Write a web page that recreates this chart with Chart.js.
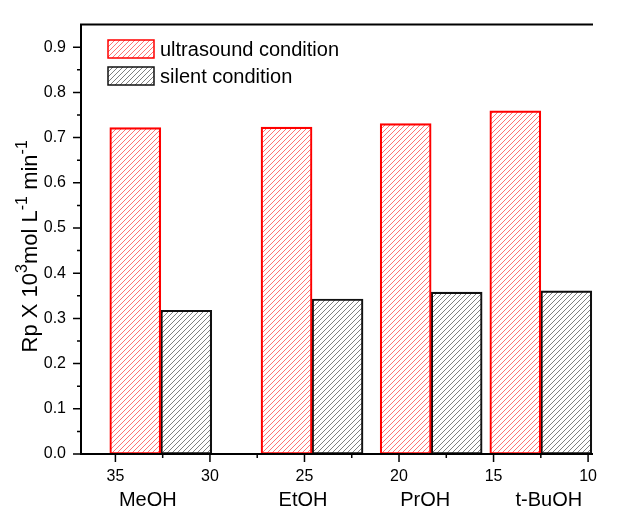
<!DOCTYPE html>
<html>
<head>
<meta charset="utf-8">
<script src="https://cdn.jsdelivr.net/npm/chart.js@4.4.0/dist/chart.umd.min.js"></script>
<style>
  html, body { margin: 0; padding: 0; background: #fff; }
</style>
</head>
<body>
<canvas id="rpChart" width="617" height="511"></canvas>
<script>
// solvents, placed on the x axis by dielectric constant
const solvents = ['MeOH', 'EtOH', 'PrOH', 't-BuOH'];
const dielectric = [32.6, 24.6, 18.3, 12.5];

// Rp x 10^3 (mol L^-1 min^-1)
const ultrasoundRp = [0.722, 0.723, 0.731, 0.759];
const silentRp = [0.318, 0.343, 0.358, 0.361];

const seriesNames = ['ultrasound condition', 'silent condition'];
const xTicks = [35, 30, 25, 20, 15, 10];
const yTicks = [0.0, 0.1, 0.2, 0.3, 0.4, 0.5, 0.6, 0.7, 0.8, 0.9];

const FONT = '"Liberation Sans", Arial, Helvetica, sans-serif';
const canvas = document.getElementById('rpChart');
const ctx = canvas.getContext('2d');

// diagonal "/" hatch used to fill the bars
function hatch(color) {
  const s = 5;
  const tile = document.createElement('canvas');
  tile.width = s; tile.height = s;
  const g = tile.getContext('2d');
  g.strokeStyle = color;
  g.lineWidth = 1;
  g.beginPath();
  g.moveTo(0, s); g.lineTo(s, 0);
  g.moveTo(-1, 1); g.lineTo(1, -1);
  g.moveTo(s - 1, s + 1); g.lineTo(s + 1, s - 1);
  g.stroke();
  return ctx.createPattern(tile, 'repeat');
}

function drawRich(c, parts, size, supSize) {
  let w = 0;
  parts.forEach(p => {
    c.font = (p.sup ? supSize : size) + 'px ' + FONT;
    p.w = c.measureText(p.t).width;
    w += p.w;
  });
  let x = -w / 2;
  parts.forEach(p => {
    c.font = (p.sup ? supSize : size) + 'px ' + FONT;
    c.fillText(p.t, x, p.sup ? -8 : 0);
    x += p.w;
  });
}

const frame = {
  id: 'frame',
  afterDraw(chart) {
    const { ctx: c, chartArea: a, scales: { x, y } } = chart;
    c.save();
    c.strokeStyle = '#000';

    // top edge, left and bottom axes
    c.lineWidth = 2;
    c.beginPath();
    c.moveTo(a.right, a.top);
    c.lineTo(a.left, a.top);
    c.lineTo(a.left, a.bottom);
    c.lineTo(a.right, a.bottom);
    c.stroke();

    // major and minor ticks, pointing out
    c.lineWidth = 1.5;
    c.beginPath();
    yTicks.forEach(v => {
      const py = y.getPixelForValue(v);
      c.moveTo(a.left, py); c.lineTo(a.left - 8, py);
      const m = v + 0.05;
      if (m < y.max - 1e-6) {
        const pm = y.getPixelForValue(m);
        c.moveTo(a.left, pm); c.lineTo(a.left - 4, pm);
      }
    });
    xTicks.forEach(v => {
      const px = x.getPixelForValue(v);
      c.moveTo(px, a.bottom); c.lineTo(px, a.bottom + 8);
      const m = v - 2.5;
      if (m > x.min) {
        const pm = x.getPixelForValue(m);
        c.moveTo(pm, a.bottom); c.lineTo(pm, a.bottom + 4);
      }
    });
    c.stroke();

    // solvent names under the tick labels
    const nameShift = [-13, -9, -6, 8];
    c.fillStyle = '#000';
    c.font = '20px ' + FONT;
    c.textAlign = 'center';
    c.textBaseline = 'middle';
    solvents.forEach((s, i) => {
      c.fillText(s, x.getPixelForValue(dielectric[i]) + nameShift[i], 500);
    });

    // y axis title with superscripts
    c.save();
    c.translate(31, (a.top + a.bottom) / 2 + 7);
    c.rotate(-Math.PI / 2);
    c.textAlign = 'left';
    c.textBaseline = 'middle';
    drawRich(c, [
      { t: 'Rp X 10' }, { t: '3', sup: true }, { t: 'mol L' },
      { t: '-1', sup: true }, { t: ' min' }, { t: '-1', sup: true }
    ], 22, 16);
    c.restore();

    // legend
    c.textAlign = 'left';
    c.textBaseline = 'middle';
    c.font = '20px ' + FONT;
    chart.data.datasets.forEach((ds, i) => {
      const cy = 49 + i * 27;
      c.fillStyle = ds.backgroundColor;
      c.fillRect(108, cy - 9, 46, 18);
      c.lineWidth = 1.5;
      c.strokeStyle = ds.borderColor;
      c.strokeRect(108, cy - 9, 46, 18);
      c.fillStyle = '#000';
      c.fillText(ds.label, 160, cy + 1);
    });
    c.restore();
  }
};

new Chart(ctx, {
  type: 'bar',
  data: {
    datasets: [
      {
        label: seriesNames[0],
        data: dielectric.map((d, i) => ({ x: d, y: ultrasoundRp[i] })),
        backgroundColor: hatch('rgba(255,0,0,0.55)'),
        borderColor: '#ff0000',
        borderWidth: 1.5,
        borderSkipped: false,
        barThickness: 51
      },
      {
        label: seriesNames[1],
        data: dielectric.map((d, i) => ({ x: d, y: silentRp[i] })),
        backgroundColor: hatch('rgba(0,0,0,0.5)'),
        borderColor: '#111',
        borderWidth: 1.5,
        borderSkipped: false,
        barThickness: 51
      }
    ]
  },
  options: {
    responsive: false,
    animation: false,
    devicePixelRatio: 1,
    layout: { padding: { top: 11, right: 24, left: 0, bottom: 0 } },
    plugins: { legend: { display: false }, tooltip: { enabled: false } },
    scales: {
      x: {
        type: 'linear',
        reverse: true,
        offset: false,
        min: 9.74,
        max: 36.82,
        afterBuildTicks: s => { s.ticks = xTicks.map(v => ({ value: v })); },
        afterFit: s => { s.height = 57; },
        grid: { display: false, drawTicks: false },
        border: { display: false },
        ticks: {
          color: '#000',
          font: { family: FONT, size: 16 },
          padding: 13,
          maxRotation: 0,
          callback: v => String(v)
        }
      },
      y: {
        min: 0,
        max: 0.95,
        afterBuildTicks: s => { s.ticks = yTicks.map(v => ({ value: v })); },
        afterFit: s => { s.width = 81; },
        grid: { display: false, drawTicks: false },
        border: { display: false },
        ticks: {
          color: '#000',
          font: { family: FONT, size: 16 },
          padding: 15,
          callback: v => Number(v).toFixed(1)
        }
      }
    }
  },
  plugins: [frame]
});
</script>
</body>
</html>
